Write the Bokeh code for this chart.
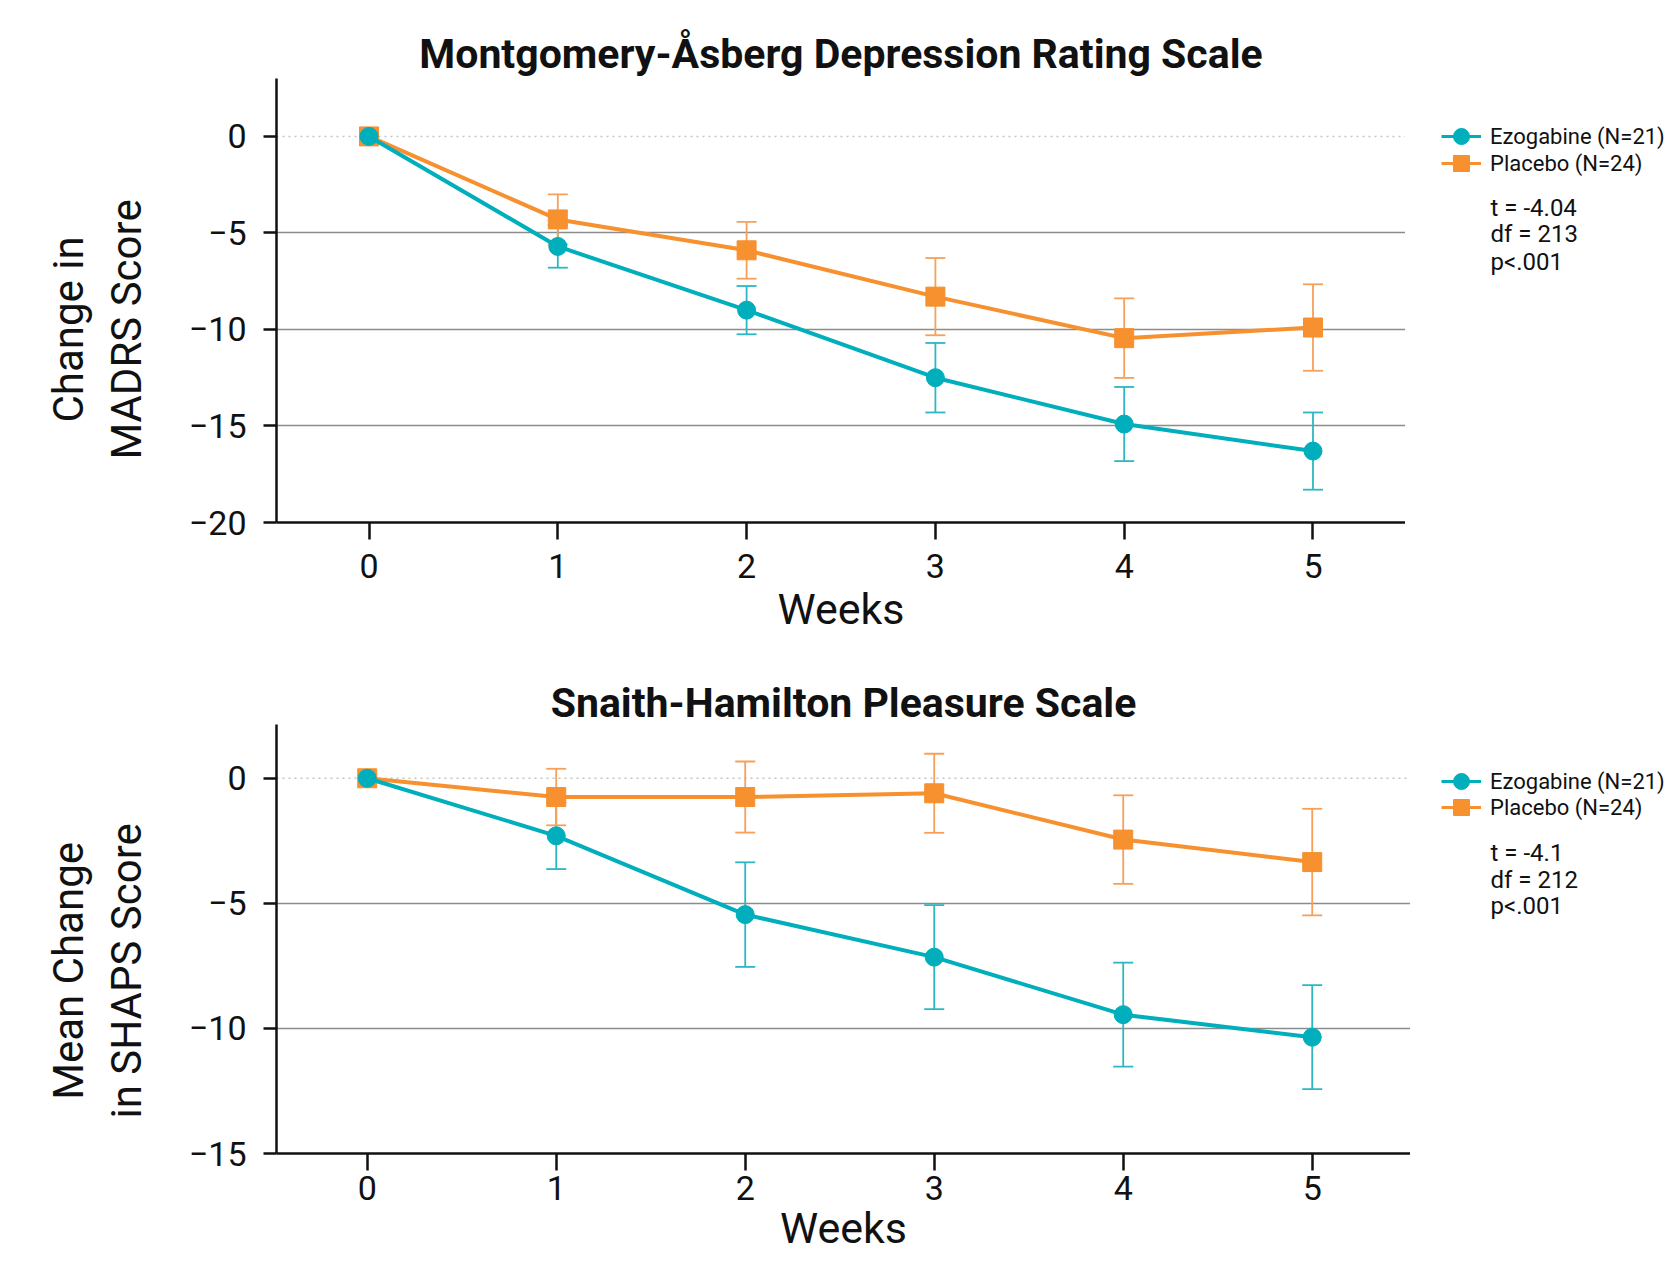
import math
from bokeh.plotting import figure
from bokeh.layouts import column, row
from bokeh.models import (ColumnDataSource, Whisker, TeeHead, Legend, LegendItem, Label,
                          Span, FixedTicker, Range1d)
from bokeh.embed import file_html
from bokeh.resources import INLINE

# ---------------- data ----------------
weeks = [0, 1, 2, 3, 4, 5]
week_labels = ["0", "1", "2", "3", "4", "5"]

madrs_ezo = [0, -5.7, -9.0, -12.5, -14.9, -16.3]
madrs_ezo_err = [0, 1.1, 1.25, 1.8, 1.92, 2.0]
madrs_pla = [0, -4.3, -5.9, -8.3, -10.45, -9.9]
madrs_pla_err = [0, 1.3, 1.47, 2.0, 2.06, 2.24]

shaps_ezo = [0, -2.3, -5.45, -7.15, -9.45, -10.35]
shaps_ezo_err = [0, 1.33, 2.09, 2.08, 2.08, 2.08]
shaps_pla = [0, -0.75, -0.75, -0.6, -2.45, -3.35]
shaps_pla_err = [0, 1.13, 1.42, 1.58, 1.77, 2.13]

series_names = ["Ezogabine (N=21)", "Placebo (N=24)"]
madrs_stats = ["t = -4.04", "df = 213", "p<.001"]
shaps_stats = ["t = -4.1", "df = 212", "p<.001"]

madrs_yticks = [0, -5, -10, -15, -20]
shaps_yticks = [0, -5, -10, -15]

# ---------------- style ----------------
FONT = "Roboto"
TEAL = "#00AEBC"
ORANGE = "#F7902F"
INK = "#111111"
LABEL_W = 185          # width of the left strip holding the y-axis title
FRAME_LEFT = 275       # x of the y axis on the page
PAGE_W = 1669


def minus(v):
    return str(v).replace("-", "\u2212")


def build(title, ylabel, ylabel_y, ezo, ezo_err, pla, pla_err, stats, stats_y, yticks,
          yr, xr, height, b_top, b_bottom, frame_right, legend_vys,
          tick_standoff, xlabel_standoff, title_standoff):
    y_range = Range1d(*yr)
    main_w = frame_right - LABEL_W
    p = figure(width=main_w, height=height, x_range=Range1d(*xr), y_range=y_range,
               output_backend="svg", toolbar_location=None, title=title,
               min_border_left=FRAME_LEFT - LABEL_W, min_border_right=0,
               min_border_top=b_top, min_border_bottom=b_bottom)
    p.outline_line_color = None
    p.title.text_font = FONT
    p.title.text_font_size = "41px"
    p.title.text_font_style = "bold"
    p.title.text_color = INK
    p.title.align = "center"
    p.title.standoff = title_standoff

    xa = p.xaxis[0]
    xa.ticker = FixedTicker(ticks=weeks)
    xa.major_label_overrides = {w: l for w, l in zip(weeks, week_labels)}
    xa.axis_label = "Weeks"
    xa.axis_label_standoff = xlabel_standoff
    xa.major_tick_out = 17
    xa.major_label_standoff = tick_standoff

    ya = p.yaxis[0]
    ya.ticker = FixedTicker(ticks=yticks)
    ya.major_label_overrides = {t: minus(t) for t in yticks}
    ya.major_tick_out = 13
    ya.major_label_standoff = 17

    for ax in (xa, ya):
        ax.axis_line_width = 2.5
        ax.axis_line_color = INK
        ax.major_tick_line_width = 2.5
        ax.major_tick_line_color = INK
        ax.major_tick_in = 0
        ax.minor_tick_line_color = None
        ax.major_label_text_font = FONT
        ax.major_label_text_font_size = "34px"
        ax.major_label_text_color = INK
        ax.axis_label_text_font = FONT
        ax.axis_label_text_font_size = "43px"
        ax.axis_label_text_font_style = "normal"
        ax.axis_label_text_color = INK

    p.xgrid.visible = False
    p.ygrid.ticker = FixedTicker(ticks=[t for t in yticks if t != 0 and t != min(yticks)])
    p.ygrid.grid_line_color = "#8c8c8c"
    p.ygrid.grid_line_width = 1.5
    p.add_layout(Span(location=0, dimension="width", line_color="#c4c4c4",
                      line_dash="2 4", line_width=1.5, level="underlay"))

    src = ColumnDataSource(dict(x=weeks, ezo=ezo, pla=pla))
    wsrc = ColumnDataSource(dict(
        x=weeks[1:],
        ezo_hi=[v + e for v, e in zip(ezo[1:], ezo_err[1:])],
        ezo_lo=[v - e for v, e in zip(ezo[1:], ezo_err[1:])],
        pla_hi=[v + e for v, e in zip(pla[1:], pla_err[1:])],
        pla_lo=[v - e for v, e in zip(pla[1:], pla_err[1:])],
    ))
    for key, col in (("ezo", "#2CB7C3"), ("pla", "#F6A05A")):
        w = Whisker(source=wsrc, base="x", upper=key + "_hi", lower=key + "_lo",
                    line_color=col, line_width=1.8, level="underlay",
                    upper_head=TeeHead(size=20, line_color=col, line_width=1.8),
                    lower_head=TeeHead(size=20, line_color=col, line_width=1.8))
        p.add_layout(w)

    p.line("x", "pla", source=src, line_color=ORANGE, line_width=4)
    p.scatter("x", "pla", source=src, marker="square", size=19,
              fill_color=ORANGE, line_color=ORANGE)
    p.line("x", "ezo", source=src, line_color=TEAL, line_width=4)
    p.scatter("x", "ezo", source=src, marker="circle", size=18,
              fill_color=TEAL, line_color=TEAL)

    # ---- left strip: y-axis title ----
    lf = figure(width=LABEL_W, height=height, x_range=Range1d(0, 1), y_range=y_range,
                output_backend="svg", toolbar_location=None,
                x_axis_type=None, y_axis_type=None,
                min_border_left=0, min_border_right=0,
                min_border_top=b_top, min_border_bottom=b_bottom)
    lf.outline_line_color = None
    lf.add_layout(Label(x=97, y=ylabel_y, x_units="screen", y_units="data", text=ylabel,
                        angle=math.pi / 2, text_align="center", text_baseline="middle",
                        text_font=FONT, text_font_size="42px", text_color=INK,
                        text_line_height=1.2))

    # ---- right strip: legend and statistics ----
    side_w = PAGE_W - frame_right
    sf = figure(width=side_w, height=height, x_range=Range1d(100, 101), y_range=y_range,
                output_backend="svg", toolbar_location=None,
                x_axis_type=None, y_axis_type=None,
                min_border_left=0, min_border_right=0,
                min_border_top=b_top, min_border_bottom=b_bottom)
    sf.outline_line_color = None
    ksrc = ColumnDataSource(dict(x=weeks, ezo=ezo, pla=pla))
    keys = [
        (sf.line("x", "ezo", source=ksrc, line_color=TEAL, line_width=3),
         sf.scatter("x", "ezo", source=ksrc, marker="circle",
                    fill_color=TEAL, line_color=TEAL)),
        (sf.line("x", "pla", source=ksrc, line_color=ORANGE, line_width=3),
         sf.scatter("x", "pla", source=ksrc, marker="square",
                    fill_color=ORANGE, line_color=ORANGE)),
    ]
    for name, rends, vy in zip(series_names, keys, legend_vys):
        lg = Legend(items=[LegendItem(label=name, renderers=list(rends), index=0)],
                    location=(1441 - frame_right, vy),
                    label_text_font=FONT, label_text_font_size="22px", label_text_color=INK,
                    glyph_width=40, glyph_height=42, label_height=42, spacing=0,
                    padding=0, margin=0, label_standoff=9,
                    border_line_color=None, background_fill_alpha=0)
        sf.add_layout(lg)
    for txt, yy in zip(stats, stats_y):
        sf.add_layout(Label(x=1490 - frame_right, y=yy, x_units="screen", y_units="data",
                            text=txt, text_font=FONT, text_font_size="24px",
                            text_color=INK, text_baseline="middle"))
    return row(lf, p, sf, spacing=0)


top = build("Montgomery-\u00c5sberg Depression Rating Scale", "Change in\nMADRS Score", -10,
            madrs_ezo, madrs_ezo_err, madrs_pla, madrs_pla_err,
            madrs_stats, [-3.73, -5.08, -6.48], madrs_yticks,
            (-20, 3), (-0.49, 5.49),
            height=646, b_top=78, b_bottom=124, frame_right=1405,
            legend_vys=[365, 338],
            tick_standoff=14, xlabel_standoff=3, title_standoff=2)

bottom = build("Snaith-Hamilton Pleasure Scale", "Mean Change\nin SHAPS Score", -7.7,
               shaps_ezo, shaps_ezo_err, shaps_pla, shaps_pla_err,
               shaps_stats, [-3.0, -4.05, -5.1], shaps_yticks,
               (-15, 2.15), (-0.48, 5.52),
               height=619, b_top=78, b_bottom=112, frame_right=1410,
               legend_vys=[351, 325],
               tick_standoff=5, xlabel_standoff=0, title_standoff=-4)

layout = column(top, bottom, spacing=0)
open("out.html", "w").write(file_html(layout, INLINE))
